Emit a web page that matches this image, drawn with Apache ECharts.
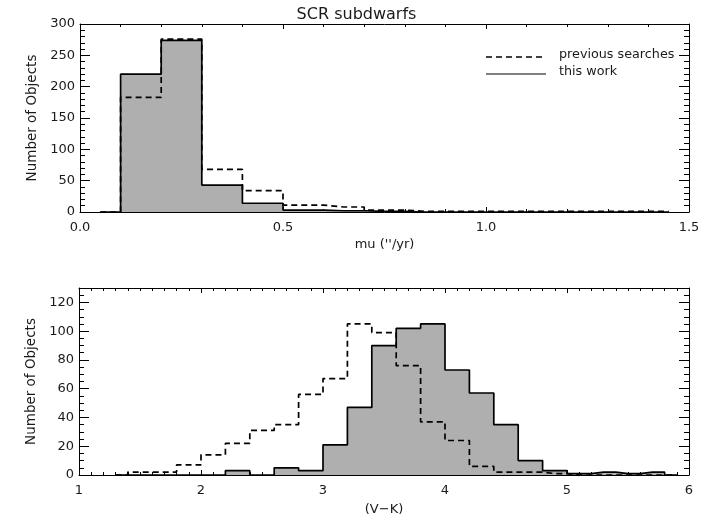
<!DOCTYPE html>
<html>
<head>
<meta charset="utf-8">
<script src="https://cdn.jsdelivr.net/npm/echarts@6/dist/echarts.min.js"></script>
<style>
html,body{margin:0;padding:0;background:#fff;}
#chart{width:713px;height:525px;}
</style>
</head>
<body>
<div id="chart"></div>
<script>
// ---- data (bin centres and counts) ----
var muCenters = [0.05, 0.15, 0.25, 0.35, 0.45, 0.55, 0.65, 0.75, 0.85, 0.95, 1.05, 1.15, 1.25, 1.35, 1.45];
var muThisWork = [0, 220, 274, 43, 14, 3, 2, 1, 0, 0, 0, 0, 0, 0, 0];
var muPrevious = [0, 183, 276, 68, 34, 11, 8, 3, 1, 1, 1, 1, 1, 1, 1];

var vkCenters = [1.3, 1.5, 1.7, 1.9, 2.1, 2.3, 2.5, 2.7, 2.9, 3.1, 3.3, 3.5, 3.7, 3.9, 4.1, 4.3, 4.5, 4.7, 4.9, 5.1, 5.3, 5.5, 5.7, 5.9];
var vkThisWork = [0, 0, 0, 0, 0, 3, 0, 5, 3, 21, 47, 90, 102, 105, 73, 57, 35, 10, 3, 1, 2, 1, 2, 0];
var vkPrevious = [0, 2, 2, 7, 14, 22, 31, 35, 56, 67, 105, 99, 76, 37, 24, 6, 2, 2, 1, 0, 0, 0, 0, 0];

var titleText = 'SCR subdwarfs';
var muLabel = 'mu (\'\'/yr)';
var vkLabel = '(V\u2212K)';
var yLabel = 'Number of Objects';
var legendNames = ['previous searches', 'this work'];

var FONT = 'DejaVu Sans';
var TXT = '#1a1a1a';
var FS = 13;

function pairs(xs, ys) { return xs.map(function (x, i) { return [x, ys[i]]; }); }

function xAxisPair(grid, min, max, interval, minorSplit, fmt, name, gap) {
  var base = {
    type: 'value', gridIndex: grid, min: min, max: max, interval: interval,
    axisLine: { show: true, onZero: false, lineStyle: { color: '#000', width: 1 } },
    axisTick: { show: true, inside: true, length: 5, lineStyle: { color: '#000', width: 1 } },
    minorTick: { show: true, splitNumber: minorSplit, length: 3, lineStyle: { color: '#000', width: 1 } },
    splitLine: { show: false }
  };
  var bottom = echarts.util.merge({
    position: 'bottom',
    axisLabel: { show: true, color: TXT, fontFamily: FONT, fontSize: FS, margin: 9, formatter: fmt },
    name: name, nameLocation: 'middle', nameGap: gap,
    nameTextStyle: { color: TXT, fontFamily: FONT, fontSize: FS }
  }, base, true);
  var top = echarts.util.merge({ position: 'top', axisLabel: { show: false } }, base, true);
  return [bottom, top];
}

function yAxisPair(grid, min, max, interval, minorSplit, hideMax) {
  var base = {
    type: 'value', gridIndex: grid, min: min, max: max, interval: interval,
    axisLine: { show: true, onZero: false, lineStyle: { color: '#000', width: 1 } },
    axisTick: { show: true, inside: true, length: 10, lineStyle: { color: '#000', width: 1 } },
    minorTick: { show: true, splitNumber: minorSplit, length: 5, lineStyle: { color: '#000', width: 1 } },
    splitLine: { show: false }
  };
  var left = echarts.util.merge({
    position: 'left',
    axisLabel: { show: true, color: TXT, fontFamily: FONT, fontSize: FS, margin: 5,
      formatter: function (v) { return (hideMax && v > hideMax) ? '' : String(v); } },
    name: yLabel, nameLocation: 'middle', nameGap: 36, nameRotate: 90,
    nameTextStyle: { color: TXT, fontFamily: FONT, fontSize: 13.5 }
  }, base, true);
  var right = echarts.util.merge({ position: 'right', axisLabel: { show: false } }, base, true);
  return [left, right];
}

var xs = xAxisPair(0, 0, 1.5, 0.5, 5, function (v) { return v.toFixed(1); }, muLabel, 26)
  .concat(xAxisPair(1, 1, 6, 1, 10, function (v) { return String(v); }, vkLabel, 28));
var ys = yAxisPair(0, 0, 300, 50, 5, null).concat(yAxisPair(1, 0, 130, 20, 4, 120));

var FILL = '#afafaf';
var DASH = [6, 4];

var option = {
  backgroundColor: '#fff',
  animation: false,
  title: {
    text: titleText, left: 'center', top: 2,
    textStyle: { color: TXT, fontFamily: FONT, fontSize: 16, fontWeight: 'normal' }
  },
  grid: [
    { left: 80, right: 24, top: 24, height: 188 },
    { left: 79, right: 24, top: 288, height: 187 }
  ],
  xAxis: xs,
  yAxis: ys,
  series: [
    { type: 'line', xAxisIndex: 0, yAxisIndex: 0, step: 'middle', symbol: 'none', z: 2,
      data: pairs(muCenters, muThisWork),
      lineStyle: { color: '#000', width: 1.7 }, areaStyle: { color: FILL, opacity: 1 } },
    { type: 'line', xAxisIndex: 0, yAxisIndex: 0, step: 'middle', symbol: 'none', z: 3,
      data: pairs(muCenters, muPrevious),
      lineStyle: { color: '#000', width: 1.7, type: DASH } },
    { type: 'line', xAxisIndex: 2, yAxisIndex: 2, step: 'middle', symbol: 'none', z: 2,
      data: pairs(vkCenters, vkThisWork),
      lineStyle: { color: '#000', width: 1.7 }, areaStyle: { color: FILL, opacity: 1 } },
    { type: 'line', xAxisIndex: 2, yAxisIndex: 2, step: 'middle', symbol: 'none', z: 3,
      data: pairs(vkCenters, vkPrevious),
      lineStyle: { color: '#000', width: 1.7, type: DASH } }
  ],
  graphic: [
    { type: 'line', shape: { x1: 486, y1: 57, x2: 546, y2: 57 },
      style: { stroke: '#000', lineWidth: 1.5, lineDash: DASH } },
    { type: 'text', left: 559, top: 48,
      style: { text: legendNames[0], fill: TXT, font: '12.75px "' + FONT + '"' } },
    { type: 'line', shape: { x1: 486, y1: 74, x2: 546, y2: 74 },
      style: { stroke: '#555', lineWidth: 1.5 } },
    { type: 'text', left: 559, top: 65,
      style: { text: legendNames[1], fill: TXT, font: '12.75px "' + FONT + '"' } }
  ]
};

var chart = echarts.init(document.getElementById('chart'), null, { renderer: 'canvas' });
chart.setOption(option);
</script>
</body>
</html>
